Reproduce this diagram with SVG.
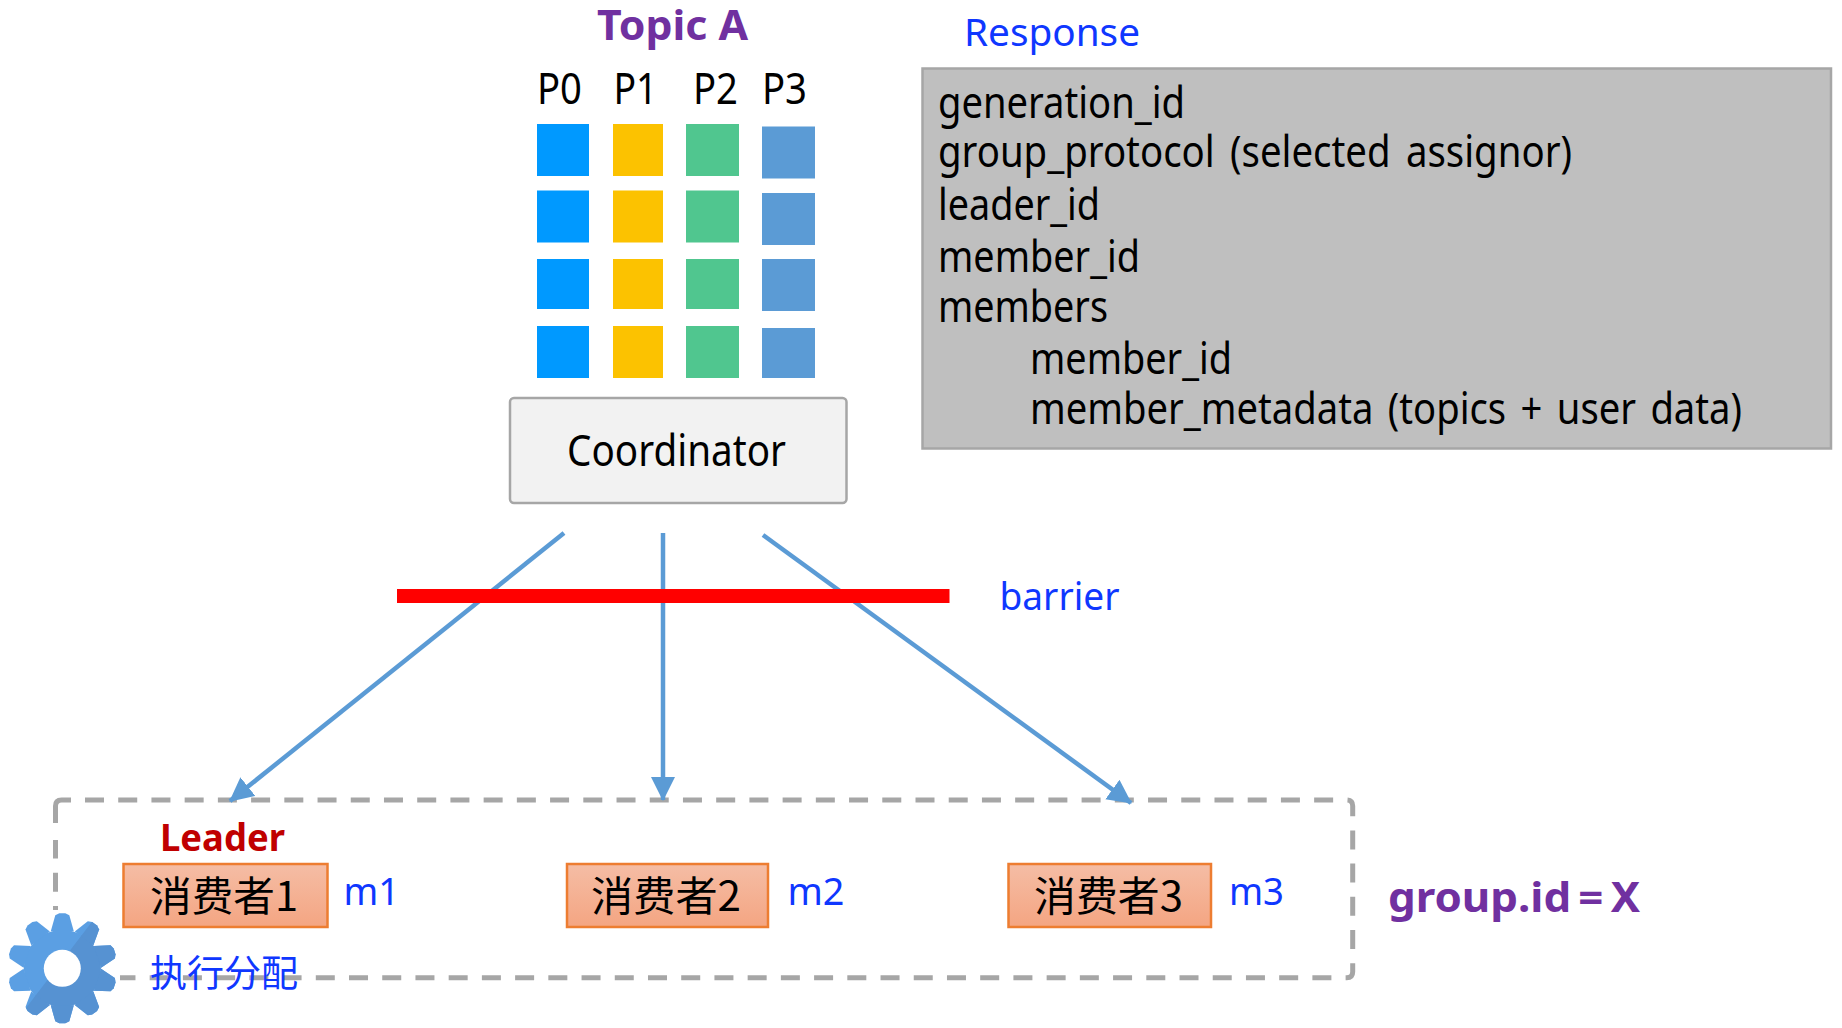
<svg xmlns="http://www.w3.org/2000/svg" width="1842" height="1028" viewBox="0 0 1842 1028">
<style>
text{font-family:"Noto Sans","Noto Sans CJK SC",sans-serif;fill:#000}
.t{font-size:43px}
.blue{fill:#0f37ff;font-size:39px}
.pur{fill:#7030a0;font-weight:700;font-size:42px}
.p0{fill:#0099ff}.p1{fill:#fcc200}.p2{fill:#50c68f}.p3{fill:#5b9bd5}
.c{fill:url(#og);stroke:#ed7d31;stroke-width:2.5}
.cn{font-size:41px;font-family:"Noto Sans CJK SC","Noto Sans",sans-serif}
.lnk{stroke:#5b9bd5;stroke-width:4.5;fill:none;marker-end:url(#arr)}
.dash{fill:none;stroke:#a6a6a6;stroke-width:5;stroke-dasharray:19 14.22}
</style>
<defs>
<linearGradient id="og" x1="0" y1="0" x2="0" y2="1"><stop offset="0" stop-color="#f5bda5"/><stop offset="1" stop-color="#f4a582"/></linearGradient>
<marker id="arr" markerUnits="userSpaceOnUse" markerWidth="26" markerHeight="26" refX="23" refY="12" orient="auto"><path d="M0 0L24 12L0 24Z" fill="#5b9bd5"/></marker>
<polygon id="tooth" points="-11.500,-37 -7,-53 -3,-55 3,-55 7,-53 11.500,-37"/>
<g id="gearShape"><circle r="38.500"/><use href="#tooth"/><use href="#tooth" transform="rotate(36)"/><use href="#tooth" transform="rotate(72)"/><use href="#tooth" transform="rotate(108)"/><use href="#tooth" transform="rotate(144)"/><use href="#tooth" transform="rotate(180)"/><use href="#tooth" transform="rotate(216)"/><use href="#tooth" transform="rotate(252)"/><use href="#tooth" transform="rotate(288)"/><use href="#tooth" transform="rotate(324)"/></g>
<clipPath id="gearDark"><polygon points="40,-60 70,-60 70,60 -60,60 -38,42"/></clipPath>
</defs>
<rect width="1842" height="1028" fill="#fff"/>
<g id="group-box">
<path class="dash" d="M85 800H1346.700Q1352.700 800 1352.700 806V971.700Q1352.700 977.700 1346.700 977.700H100"/>
<path class="dash" d="M55.500 925V840"/>
<path d="M55.500 823V806Q55.500 800 61.500 800H71" fill="none" stroke="#a6a6a6" stroke-width="5"/>
</g>
<g id="topic"><text class="pur" x="597" y="40" textLength="151" lengthAdjust="spacingAndGlyphs">Topic A</text>
<text class="t" x="537" y="104" textLength="45" lengthAdjust="spacingAndGlyphs">P0</text>
<text class="t" x="613.500" y="104" textLength="44" lengthAdjust="spacingAndGlyphs">P1</text>
<text class="t" x="693" y="104" textLength="45" lengthAdjust="spacingAndGlyphs">P2</text>
<text class="t" x="762" y="104" textLength="45" lengthAdjust="spacingAndGlyphs">P3</text></g>
<g id="partitions">
<rect class="p0" x="537" y="124" width="52" height="52"/><rect class="p0" x="537" y="190.500" width="52" height="52"/><rect class="p0" x="537" y="259" width="52" height="50"/><rect class="p0" x="537" y="326" width="52" height="52"/>
<rect class="p1" x="613" y="124" width="50" height="52"/><rect class="p1" x="613" y="190.500" width="50" height="52"/><rect class="p1" x="613" y="259" width="50" height="50"/><rect class="p1" x="613" y="326" width="50" height="52"/>
<rect class="p2" x="686" y="124" width="53" height="52"/><rect class="p2" x="686" y="190.500" width="53" height="52"/><rect class="p2" x="686" y="259" width="53" height="50"/><rect class="p2" x="686" y="326" width="53" height="52"/>
<rect class="p3" x="762" y="126.500" width="53" height="52"/><rect class="p3" x="762" y="193" width="53" height="52"/><rect class="p3" x="762" y="259" width="53" height="52"/><rect class="p3" x="762" y="328" width="53" height="50"/>
</g>
<g id="response"><text class="blue" x="964" y="46" textLength="176" lengthAdjust="spacingAndGlyphs">Response</text>
<rect x="922.500" y="68.500" width="908.500" height="380" fill="#bfbfbf" stroke="#a6a6a6" stroke-width="2.5"/>
<text class="t" x="938" y="118" textLength="247" lengthAdjust="spacingAndGlyphs">generation_id</text>
<text class="t" x="938" y="167" textLength="634" lengthAdjust="spacingAndGlyphs" word-spacing="6">group_protocol (selected assignor)</text>
<text class="t" x="938" y="220" textLength="162" lengthAdjust="spacingAndGlyphs">leader_id</text>
<text class="t" x="938" y="272" textLength="202" lengthAdjust="spacingAndGlyphs">member_id</text>
<text class="t" x="938" y="322" textLength="170" lengthAdjust="spacingAndGlyphs">members</text>
<text class="t" x="1030" y="374" textLength="202" lengthAdjust="spacingAndGlyphs">member_id</text>
<text class="t" x="1030" y="424" textLength="712" lengthAdjust="spacingAndGlyphs" word-spacing="5">member_metadata (topics + user data)</text></g>
<g id="coordinator"><rect x="510" y="398" width="336.500" height="105" rx="4" fill="#f2f2f2" stroke="#a6a6a6" stroke-width="2.500"/>
<text class="t" x="567" y="466" textLength="219" lengthAdjust="spacingAndGlyphs">Coordinator</text></g>
<g id="connectors">
<line class="lnk" x1="564" y1="533" x2="230" y2="801"/>
<line class="lnk" x1="663" y1="533" x2="663" y2="800"/>
<line class="lnk" x1="763" y1="535" x2="1131" y2="803"/>
</g>
<g id="barrier"><rect x="397" y="589" width="552.500" height="14" fill="#ff0000"/>
<text class="blue" x="999.500" y="610" textLength="120" lengthAdjust="spacingAndGlyphs">barrier</text></g>
<g id="leader"><text x="160" y="851" style="fill:#c00000;font-weight:700;font-size:37px" textLength="125" lengthAdjust="spacingAndGlyphs">Leader</text></g>
<g id="consumer1"><rect class="c" x="123.500" y="864" width="204" height="63"/><text class="cn" x="150" y="911" textLength="148" lengthAdjust="spacingAndGlyphs">消费者1</text><text class="blue" x="343.500" y="905" textLength="56" lengthAdjust="spacingAndGlyphs">m1</text></g>
<g id="consumer2"><rect class="c" x="567" y="864" width="201" height="63"/><text class="cn" x="591" y="911" textLength="150" lengthAdjust="spacingAndGlyphs">消费者2</text><text class="blue" x="787.500" y="905" textLength="57" lengthAdjust="spacingAndGlyphs">m2</text></g>
<g id="consumer3"><rect class="c" x="1008.500" y="864" width="202.500" height="63"/><text class="cn" x="1034" y="911" textLength="149" lengthAdjust="spacingAndGlyphs">消费者3</text><text class="blue" x="1229" y="905" textLength="55" lengthAdjust="spacingAndGlyphs">m3</text></g>
<g id="group-label"><text class="pur" x="1388" y="912" textLength="252" lengthAdjust="spacingAndGlyphs" word-spacing="-4">group.id = X</text></g>
<g id="gear"><rect x="0" y="910" width="120" height="118" fill="#fff"/>
<g transform="translate(62.300 968.300)"><use href="#gearShape" fill="#5b9fe3"/><use href="#gearShape" fill="#5692d2" clip-path="url(#gearDark)"/><circle r="18.500" fill="#fff"/></g>
<text class="cn" x="150" y="986.500" textLength="148" lengthAdjust="spacingAndGlyphs" style="fill:#0f37ff;font-size:37px">执行分配</text></g>
</svg>
